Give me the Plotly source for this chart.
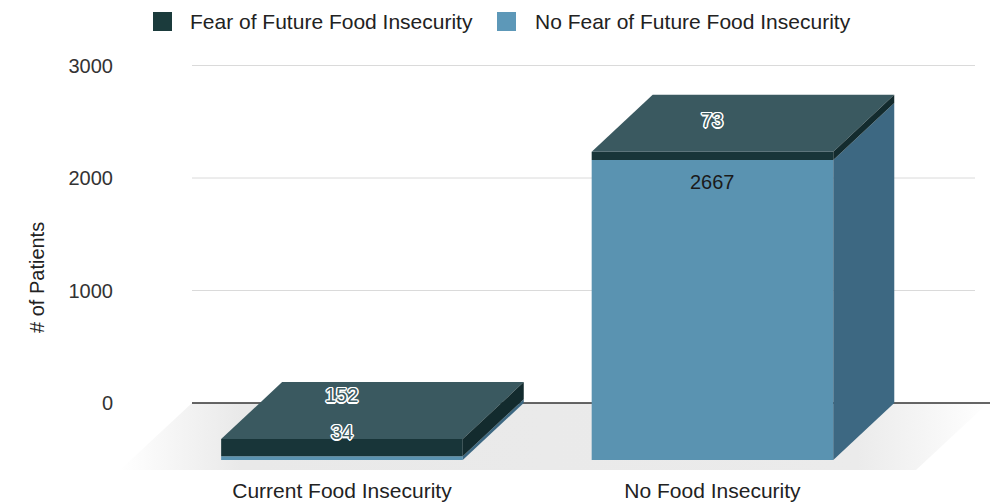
import plotly.graph_objects as go

# ---------------- data ----------------
categories = ["Current Food Insecurity", "No Food Insecurity"]
series_names = ["Fear of Future Food Insecurity", "No Fear of Future Food Insecurity"]
fear_values = [152, 73]
no_fear_values = [34, 2667]
y_tick_values = [0, 1000, 2000, 3000]
y_tick_labels = ["0", "1000", "2000", "3000"]
y_title = "# of Patients"

# ---------------- styling / geometry ----------------
W, H = 990, 502
M_L, M_R, M_T, M_B = 120, 0, 40, 30
PLOT_W = W - M_L - M_R
PLOT_H = H - M_T - M_B
X_RANGE = [-0.599, 1.749]
Y_RANGE = [-613.3, 3226.7]
XSPAN = X_RANGE[1] - X_RANGE[0]
YSPAN = Y_RANGE[1] - Y_RANGE[0]

def dx_px(p):
    return p / PLOT_W * XSPAN

def dy_px(p):
    return p / PLOT_H * YSPAN

def px_x(p):
    return X_RANGE[0] + (p - M_L) / PLOT_W * XSPAN

def paper_x(p):
    return (p - M_L) / PLOT_W

def paper_y(p):
    return (H - M_B - p) / PLOT_H

BAR_W = 0.652
HALF = BAR_W / 2
DX = dx_px(61)
DY = dy_px(57)
FLOOR_DX = dx_px(72)
FLOOR_DY = dy_px(67)
WALL_LEFT = px_x(192)
GRID_RIGHT = px_x(975)
FLOOR_RIGHT = px_x(988)

FEAR_FRONT = "#183539"
FEAR_TOP = "#3a5960"
FEAR_SIDE = "#132b2e"
NOFEAR_FRONT = "#5a93b1"
NOFEAR_SIDE = "#3d6882"
LEG_FEAR = "#1b3b3c"
LEG_NOFEAR = "#5d98b8"
FONT = "Liberation Sans, Arial, sans-serif"

LABEL_SHIFT_FEAR = [44, 32]
LABEL_SHIFT_NOFEAR = [24, -22]
LABEL_OUTLINE_NOFEAR = [True, False]
OUTLINE = ("1px 1px 0 #fff, -1px -1px 0 #fff, 1px -1px 0 #fff, -1px 1px 0 #fff, "
           "0 1.5px 0 #fff, 1.5px 0 0 #fff, 0 -1.5px 0 #fff, -1.5px 0 0 #fff")

fig = go.Figure()

# floor
fig.add_trace(go.Scatter(
    x=[WALL_LEFT, FLOOR_RIGHT, FLOOR_RIGHT - FLOOR_DX, WALL_LEFT - FLOOR_DX, WALL_LEFT],
    y=[0, 0, -FLOOR_DY, -FLOOR_DY, 0],
    mode="lines", line=dict(width=0), fill="toself",
    fillgradient=dict(type="horizontal",
                      colorscale=[[0, "rgba(255,255,255,1)"], [0.14, "#e9e9e9"],
                                  [0.85, "#ebebeb"], [1, "rgba(255,255,255,1)"]]),
    hoverinfo="skip", showlegend=False))

# gridlines on back wall
gx, gy = [], []
for v in y_tick_values:
    if v == 0:
        continue
    gx += [WALL_LEFT, GRID_RIGHT, None]
    gy += [v, v, None]
fig.add_trace(go.Scatter(x=gx, y=gy, mode="lines", line=dict(color="#dadada", width=1),
                         hoverinfo="skip", showlegend=False))
fig.add_trace(go.Scatter(x=[WALL_LEFT, X_RANGE[1]], y=[0, 0], mode="lines",
                         line=dict(color="#333333", width=1.5),
                         hoverinfo="skip", showlegend=False))

idx = list(range(len(categories)))


def poly(xs, ys, color, name=None):
    fig.add_trace(go.Scatter(x=xs, y=ys, mode="lines", line=dict(width=0, color=color),
                             fill="toself", fillcolor=color, hoverinfo="skip",
                             name=name, showlegend=False))


for i in idx:
    nf = no_fear_values[i]
    tot = nf + fear_values[i]
    r = i + HALF
    l = i - HALF
    # front faces (stacked: no-fear at bottom, fear on top)
    poly([l, r, r, l, l], [-DY, -DY, nf - DY, nf - DY, -DY], NOFEAR_FRONT, series_names[1])
    poly([l, r, r, l, l], [nf - DY, nf - DY, tot - DY, tot - DY, nf - DY], FEAR_FRONT,
         series_names[0])
    # top face
    poly([l, r, r + DX, l + DX, l], [tot - DY, tot - DY, tot, tot, tot - DY], FEAR_TOP)
    # side faces
    poly([r, r + DX, r + DX, r, r], [-DY, 0, nf, nf - DY, -DY], NOFEAR_SIDE)
    poly([r, r + DX, r + DX, r, r], [nf - DY, nf, tot, tot - DY, nf - DY], FEAR_SIDE)

annotations = []
for i in idx:
    nf = no_fear_values[i]
    tot = nf + fear_values[i]
    annotations.append(dict(
        x=i, y=tot - DY, xref="x", yref="y", text=str(fear_values[i]), showarrow=False,
        yshift=LABEL_SHIFT_FEAR[i],
        font=dict(family=FONT, size=20, color="#3d5c62", shadow=OUTLINE)))
    annotations.append(dict(
        x=i, y=nf - DY, xref="x", yref="y", text=str(nf), showarrow=False,
        yshift=LABEL_SHIFT_NOFEAR[i],
        font=dict(family=FONT, size=20,
                  color="#3d5c62" if LABEL_OUTLINE_NOFEAR[i] else "#1a1a1a",
                  shadow=OUTLINE if LABEL_OUTLINE_NOFEAR[i] else "none")))

# y title
annotations.append(dict(x=paper_x(24), y=paper_y(278), xref="paper", yref="paper",
                        text=y_title, textangle=-90, showarrow=False,
                        font=dict(family=FONT, size=20, color="#222222")))

# custom legend
legend_sq = [(153, LEG_FEAR), (497, LEG_NOFEAR)]
legend_txt_x = [188, 533]
shapes = []
for k, (sx, col) in enumerate(legend_sq):
    shapes.append(dict(type="rect", xref="paper", yref="paper",
                       x0=paper_x(sx), x1=paper_x(sx + 19),
                       y0=paper_y(31), y1=paper_y(12),
                       fillcolor=col, line=dict(width=0)))
    annotations.append(dict(x=paper_x(legend_txt_x[k]), y=paper_y(21.5), xref="paper",
                            yref="paper", xanchor="left", yanchor="middle",
                            text=series_names[k], showarrow=False,
                            font=dict(family=FONT, size=21, color="#222222")))

fig.update_layout(
    width=W, height=H,
    margin=dict(l=M_L, r=M_R, t=M_T, b=M_B, pad=0),
    paper_bgcolor="white", plot_bgcolor="white",
    showlegend=False,
    annotations=annotations, shapes=shapes,
    xaxis=dict(range=X_RANGE, tickvals=idx, ticktext=categories, showgrid=False,
               zeroline=False, showline=False, ticks="", ticklabelstandoff=4,
               tickfont=dict(family=FONT, size=21, color="#222222"), fixedrange=True),
    yaxis=dict(range=Y_RANGE, tickvals=y_tick_values, ticktext=y_tick_labels,
               showgrid=False, zeroline=False, showline=False, ticks="",
               ticklabelstandoff=6,
               tickfont=dict(family=FONT, size=20, color="#333333"), fixedrange=True),
)

fig.write_html("out.html")
